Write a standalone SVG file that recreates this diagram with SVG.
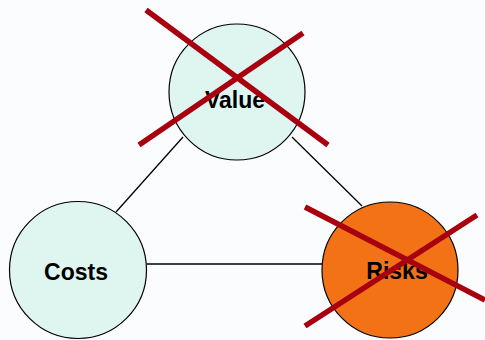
<svg xmlns="http://www.w3.org/2000/svg" width="485" height="340" viewBox="0 0 485 340">
  <style>
    .node { stroke: #000; stroke-width: 1.2; }
    .calm { fill: #dff5f0; }
    .hot { fill: #f47216; }
    .label { font-family: "Liberation Sans", Arial, sans-serif; font-weight: bold; font-size: 23px; fill: #000; text-anchor: middle; }
    .edge { stroke: #000; stroke-width: 1.3; fill: none; }
    .cross { stroke: #a8000f; stroke-width: 5.5; stroke-linecap: butt; }
  </style>
  <rect width="485" height="340" fill="#fbfcfe"/>

  <g id="connectors">
    <line class="edge" x1="116" y1="212" x2="183" y2="137"/>
    <line class="edge" x1="292" y1="137" x2="362" y2="206"/>
    <line class="edge" x1="147" y1="264" x2="322" y2="264"/>
  </g>

  <g id="value">
    <circle class="node calm" cx="237" cy="92" r="68"/>
    <text class="label" x="235" y="108">Value</text>
    <line class="cross" x1="146" y1="10" x2="328" y2="145"/>
    <line class="cross" x1="303" y1="33" x2="139" y2="145"/>
  </g>

  <g id="costs">
    <circle class="node calm" cx="78" cy="270" r="68.5"/>
    <text class="label" x="76" y="280">Costs</text>
  </g>

  <g id="risks">
    <circle class="node hot" cx="390" cy="270" r="68"/>
    <text class="label" x="397" y="279">Risks</text>
    <line class="cross" x1="305" y1="207" x2="485" y2="300"/>
    <line class="cross" x1="477" y1="215" x2="305" y2="326"/>
  </g>
</svg>
